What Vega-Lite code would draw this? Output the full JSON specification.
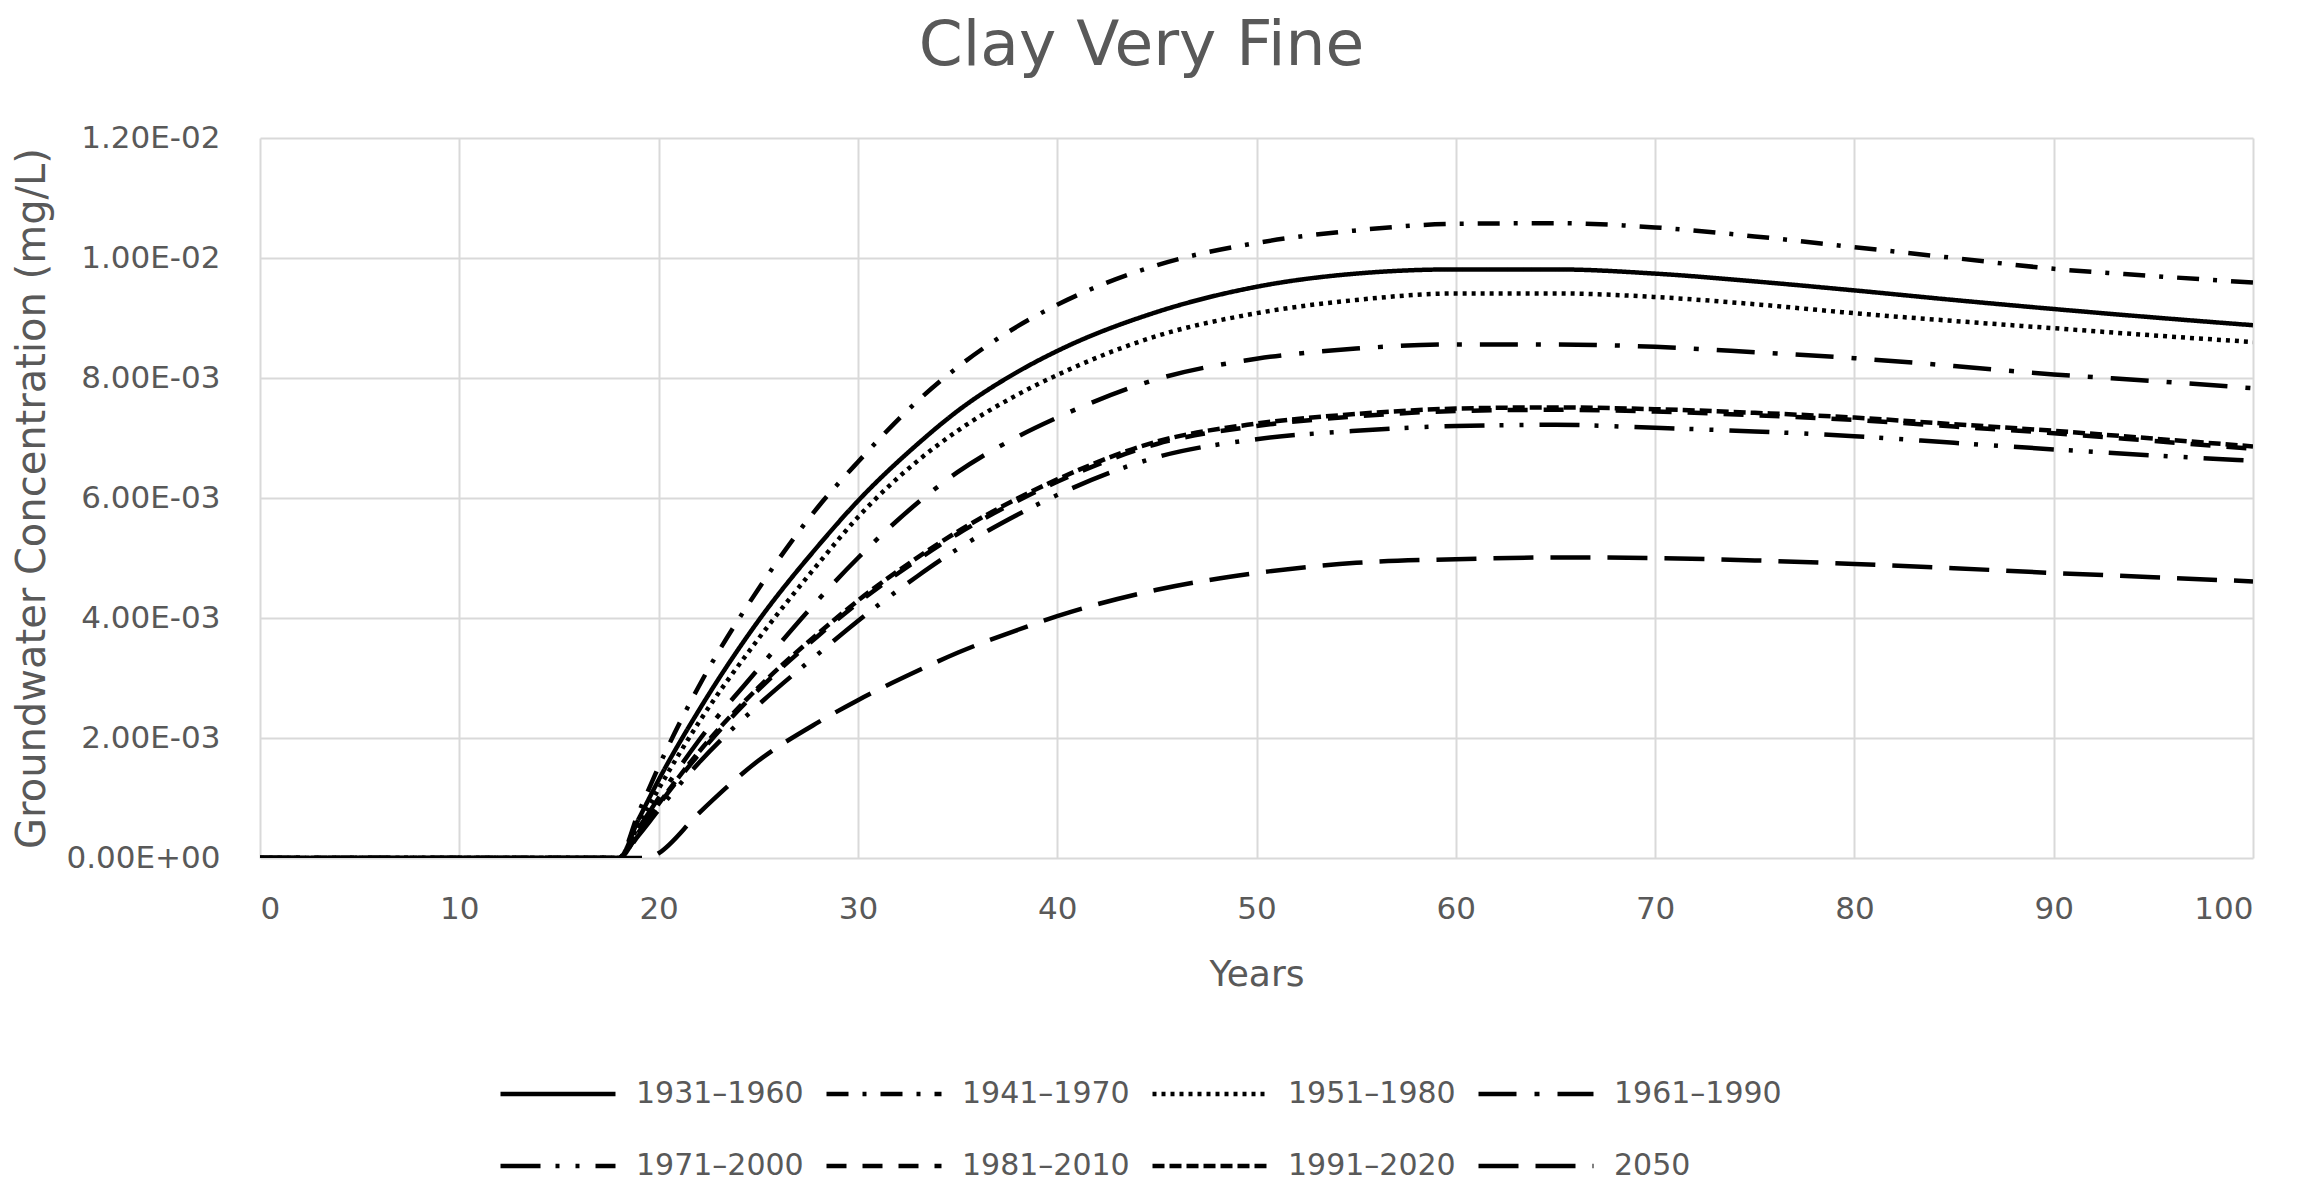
{
  "$schema": "https://vega.github.io/schema/vega-lite/v6.json",
  "width": 1993,
  "height": 720,
  "autosize": {"type": "none"},
  "padding": {"left": 260, "top": 138, "right": 48, "bottom": 324},
  "background": "white",
  "config": {
    "view": {"stroke": null},
    "font": "DejaVu Sans"
  },
  "title": {
    "text": "Clay Very Fine",
    "font": "DejaVu Sans",
    "fontSize": 63,
    "fontWeight": "normal",
    "color": "#595959",
    "anchor": "middle",
    "frame": "group",
    "dx": -115,
    "baseline": "alphabetic",
    "offset": -6
  },
  "data": {
    "values": [
      {"s":"1931–1960","t":0,"c":0},{"s":"1931–1960","t":18,"c":0},{"s":"1931–1960","t":19,"c":0.00065},{"s":"1931–1960","t":20,"c":0.0013},{"s":"1931–1960","t":22,"c":0.00245},{"s":"1931–1960","t":25,"c":0.00395},{"s":"1931–1960","t":28,"c":0.0052},{"s":"1931–1960","t":30,"c":0.00595},{"s":"1931–1960","t":33,"c":0.0069},{"s":"1931–1960","t":35,"c":0.00745},{"s":"1931–1960","t":38,"c":0.0081},{"s":"1931–1960","t":40,"c":0.00845},{"s":"1931–1960","t":45,"c":0.0091},{"s":"1931–1960","t":50,"c":0.00952},{"s":"1931–1960","t":55,"c":0.00974},{"s":"1931–1960","t":60,"c":0.00981},{"s":"1931–1960","t":65,"c":0.00981},{"s":"1931–1960","t":70,"c":0.00974},{"s":"1931–1960","t":75,"c":0.00961},{"s":"1931–1960","t":80,"c":0.00946},{"s":"1931–1960","t":85,"c":0.0093},{"s":"1931–1960","t":90,"c":0.00915},{"s":"1931–1960","t":95,"c":0.00901},{"s":"1931–1960","t":100,"c":0.00888},
      {"s":"1941–1970","t":0,"c":0},{"s":"1941–1970","t":18,"c":0},{"s":"1941–1970","t":19,"c":0.00076},{"s":"1941–1970","t":20,"c":0.00152},{"s":"1941–1970","t":22,"c":0.00285},{"s":"1941–1970","t":25,"c":0.00448},{"s":"1941–1970","t":28,"c":0.00585},{"s":"1941–1970","t":30,"c":0.0066},{"s":"1941–1970","t":33,"c":0.00762},{"s":"1941–1970","t":35,"c":0.00818},{"s":"1941–1970","t":38,"c":0.00886},{"s":"1941–1970","t":40,"c":0.00922},{"s":"1941–1970","t":45,"c":0.00988},{"s":"1941–1970","t":50,"c":0.01025},{"s":"1941–1970","t":55,"c":0.01046},{"s":"1941–1970","t":60,"c":0.01057},{"s":"1941–1970","t":65,"c":0.01058},{"s":"1941–1970","t":70,"c":0.01051},{"s":"1941–1970","t":75,"c":0.01036},{"s":"1941–1970","t":80,"c":0.01018},{"s":"1941–1970","t":85,"c":0.01},{"s":"1941–1970","t":90,"c":0.00982},{"s":"1941–1970","t":95,"c":0.0097},{"s":"1941–1970","t":100,"c":0.00959},
      {"s":"1951–1980","t":0,"c":0},{"s":"1951–1980","t":18,"c":0},{"s":"1951–1980","t":19,"c":0.00055},{"s":"1951–1980","t":20,"c":0.00115},{"s":"1951–1980","t":22,"c":0.00225},{"s":"1951–1980","t":25,"c":0.00365},{"s":"1951–1980","t":28,"c":0.0049},{"s":"1951–1980","t":30,"c":0.00568},{"s":"1951–1980","t":33,"c":0.00662},{"s":"1951–1980","t":35,"c":0.00712},{"s":"1951–1980","t":38,"c":0.00772},{"s":"1951–1980","t":40,"c":0.00805},{"s":"1951–1980","t":45,"c":0.0087},{"s":"1951–1980","t":50,"c":0.00908},{"s":"1951–1980","t":55,"c":0.0093},{"s":"1951–1980","t":60,"c":0.00941},{"s":"1951–1980","t":65,"c":0.00941},{"s":"1951–1980","t":70,"c":0.00935},{"s":"1951–1980","t":75,"c":0.00923},{"s":"1951–1980","t":80,"c":0.00908},{"s":"1951–1980","t":85,"c":0.00895},{"s":"1951–1980","t":90,"c":0.00883},{"s":"1951–1980","t":95,"c":0.00871},{"s":"1951–1980","t":100,"c":0.0086},
      {"s":"1961–1990","t":0,"c":0},{"s":"1961–1990","t":18,"c":0},{"s":"1961–1990","t":19,"c":0.0005},{"s":"1961–1990","t":20,"c":0.001},{"s":"1961–1990","t":22,"c":0.00195},{"s":"1961–1990","t":25,"c":0.00315},{"s":"1961–1990","t":28,"c":0.0043},{"s":"1961–1990","t":30,"c":0.005},{"s":"1961–1990","t":33,"c":0.00592},{"s":"1961–1990","t":35,"c":0.00643},{"s":"1961–1990","t":38,"c":0.00702},{"s":"1961–1990","t":40,"c":0.00734},{"s":"1961–1990","t":45,"c":0.00798},{"s":"1961–1990","t":50,"c":0.00832},{"s":"1961–1990","t":55,"c":0.00849},{"s":"1961–1990","t":60,"c":0.00856},{"s":"1961–1990","t":65,"c":0.00856},{"s":"1961–1990","t":70,"c":0.00852},{"s":"1961–1990","t":75,"c":0.00843},{"s":"1961–1990","t":80,"c":0.00833},{"s":"1961–1990","t":85,"c":0.0082},{"s":"1961–1990","t":90,"c":0.00806},{"s":"1961–1990","t":95,"c":0.00795},{"s":"1961–1990","t":100,"c":0.00783},
      {"s":"1971–2000","t":0,"c":0},{"s":"1971–2000","t":18,"c":0},{"s":"1971–2000","t":19,"c":0.00038},{"s":"1971–2000","t":20,"c":0.0008},{"s":"1971–2000","t":22,"c":0.00158},{"s":"1971–2000","t":25,"c":0.00255},{"s":"1971–2000","t":28,"c":0.0034},{"s":"1971–2000","t":30,"c":0.00395},{"s":"1971–2000","t":33,"c":0.0047},{"s":"1971–2000","t":35,"c":0.00515},{"s":"1971–2000","t":38,"c":0.00572},{"s":"1971–2000","t":40,"c":0.00605},{"s":"1971–2000","t":45,"c":0.00668},{"s":"1971–2000","t":50,"c":0.00698},{"s":"1971–2000","t":55,"c":0.00712},{"s":"1971–2000","t":60,"c":0.0072},{"s":"1971–2000","t":65,"c":0.00722},{"s":"1971–2000","t":70,"c":0.00717},{"s":"1971–2000","t":75,"c":0.00711},{"s":"1971–2000","t":80,"c":0.00703},{"s":"1971–2000","t":85,"c":0.00692},{"s":"1971–2000","t":90,"c":0.00681},{"s":"1971–2000","t":95,"c":0.00671},{"s":"1971–2000","t":100,"c":0.00662},
      {"s":"1981–2010","t":0,"c":0},{"s":"1981–2010","t":18,"c":0},{"s":"1981–2010","t":19,"c":0.00042},{"s":"1981–2010","t":20,"c":0.00088},{"s":"1981–2010","t":22,"c":0.00172},{"s":"1981–2010","t":25,"c":0.0028},{"s":"1981–2010","t":28,"c":0.0037},{"s":"1981–2010","t":30,"c":0.00425},{"s":"1981–2010","t":33,"c":0.00497},{"s":"1981–2010","t":35,"c":0.0054},{"s":"1981–2010","t":38,"c":0.00595},{"s":"1981–2010","t":40,"c":0.00627},{"s":"1981–2010","t":45,"c":0.0069},{"s":"1981–2010","t":50,"c":0.0072},{"s":"1981–2010","t":55,"c":0.00736},{"s":"1981–2010","t":60,"c":0.00745},{"s":"1981–2010","t":65,"c":0.00747},{"s":"1981–2010","t":70,"c":0.00744},{"s":"1981–2010","t":75,"c":0.00738},{"s":"1981–2010","t":80,"c":0.0073},{"s":"1981–2010","t":85,"c":0.00719},{"s":"1981–2010","t":90,"c":0.00708},{"s":"1981–2010","t":95,"c":0.00695},{"s":"1981–2010","t":100,"c":0.00682},
      {"s":"1991–2020","t":0,"c":0},{"s":"1991–2020","t":18,"c":0},{"s":"1991–2020","t":19,"c":0.00043},{"s":"1991–2020","t":20,"c":0.0009},{"s":"1991–2020","t":22,"c":0.00176},{"s":"1991–2020","t":25,"c":0.00284},{"s":"1991–2020","t":28,"c":0.00374},{"s":"1991–2020","t":30,"c":0.00429},{"s":"1991–2020","t":33,"c":0.00501},{"s":"1991–2020","t":35,"c":0.00544},{"s":"1991–2020","t":38,"c":0.00599},{"s":"1991–2020","t":40,"c":0.00631},{"s":"1991–2020","t":45,"c":0.00694},{"s":"1991–2020","t":50,"c":0.00724},{"s":"1991–2020","t":55,"c":0.0074},{"s":"1991–2020","t":60,"c":0.00749},{"s":"1991–2020","t":65,"c":0.00751},{"s":"1991–2020","t":70,"c":0.00748},{"s":"1991–2020","t":75,"c":0.00742},{"s":"1991–2020","t":80,"c":0.00734},{"s":"1991–2020","t":85,"c":0.00723},{"s":"1991–2020","t":90,"c":0.00712},{"s":"1991–2020","t":95,"c":0.00699},{"s":"1991–2020","t":100,"c":0.00686},
      {"s":"2050","t":0,"c":0},{"s":"2050","t":18,"c":0},{"s":"2050","t":19.5,"c":0},{"s":"2050","t":20,"c":0.00008},{"s":"2050","t":22,"c":0.00074},{"s":"2050","t":25,"c":0.00162},{"s":"2050","t":28,"c":0.00226},{"s":"2050","t":30,"c":0.00263},{"s":"2050","t":33,"c":0.00312},{"s":"2050","t":35,"c":0.00342},{"s":"2050","t":38,"c":0.0038},{"s":"2050","t":40,"c":0.00403},{"s":"2050","t":45,"c":0.00447},{"s":"2050","t":50,"c":0.00475},{"s":"2050","t":55,"c":0.00492},{"s":"2050","t":60,"c":0.00498},{"s":"2050","t":65,"c":0.00501},{"s":"2050","t":70,"c":0.005},{"s":"2050","t":75,"c":0.00496},{"s":"2050","t":80,"c":0.0049},{"s":"2050","t":85,"c":0.00483},{"s":"2050","t":90,"c":0.00475},{"s":"2050","t":95,"c":0.00468},{"s":"2050","t":100,"c":0.00461}
    ]
  },
  "mark": {"type": "line", "color": "black", "strokeWidth": 4.5, "interpolate": "monotone", "strokeCap": "butt", "clip": true},
  "encoding": {
    "x": {
      "field": "t", "type": "quantitative",
      "scale": {"domain": [0, 100], "nice": false},
      "axis": {
        "title": "Years", "values": [0,10,20,30,40,50,60,70,80,90,100],
        "grid": true, "gridColor": "#d9d9d9", "gridWidth": 2,
        "domain": false, "ticks": false, "tickSize": 0,
        "labelFont": "DejaVu Sans", "labelFontSize": 31, "labelColor": "#595959", "labelPadding": 36,
        "titleFont": "DejaVu Sans", "titleFontSize": 36, "titleFontWeight": "normal", "titleColor": "#595959", "titlePadding": 33
      }
    },
    "y": {
      "field": "c", "type": "quantitative",
      "scale": {"domain": [0, 0.012], "nice": false},
      "axis": {
        "title": "Groundwater Concentration (mg/L)",
        "values": [0, 0.002, 0.004, 0.006, 0.008, 0.01, 0.012],
        "labelExpr": "replace(replace(format(datum.value, '.2e'), 'e-', 'E-0'), 'e+', 'E+0')",
        "grid": true, "gridColor": "#d9d9d9", "gridWidth": 2,
        "domain": false, "ticks": false, "tickSize": 0,
        "labelFont": "DejaVu Sans", "labelFontSize": 31, "labelColor": "#595959", "labelPadding": 40,
        "titleFont": "DejaVu Sans", "titleFontSize": 40, "titleFontWeight": "normal", "titleColor": "#595959", "titlePadding": 13
      }
    },
    "strokeDash": {
      "field": "s", "type": "nominal",
      "scale": {
        "domain": ["1931–1960","1941–1970","1951–1980","1961–1990","1971–2000","1981–2010","1991–2020","2050"],
        "range": [[1,0],[22,14,4,14],[4,5],[38,18,5,18],[40,15,4,16,4,16],[20,16],[12,5],[40,17]]
      },
      "legend": {
        "orient": "none", "legendX": 267, "legendY": 925, "columns": 4, "direction": "horizontal", "title": null,
        "symbolType": "M-2,0H2", "symbolSize": 3306, "symbolStrokeWidth": 4.5, "symbolStrokeColor": "black",
        "labelFont": "DejaVu Sans", "labelFontSize": 30, "labelColor": "#595959", "labelOffset": 47, "labelLimit": 0,
        "columnPadding": 13, "rowPadding": 26, "padding": 0
      }
    }
  }
}
